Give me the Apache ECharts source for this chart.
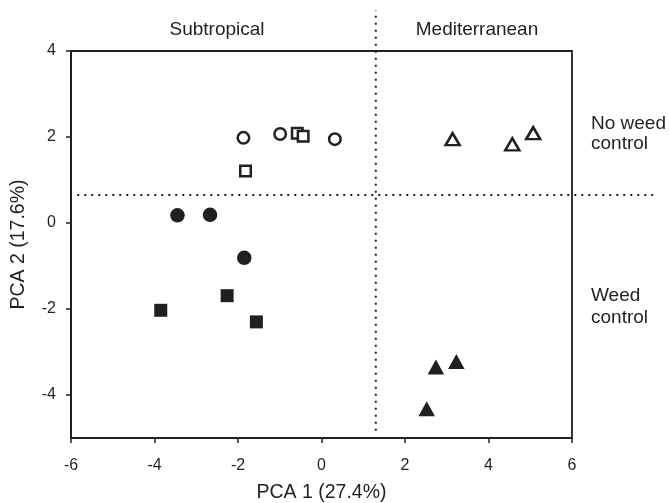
<!DOCTYPE html>
<html>
<head>
<meta charset="utf-8">
<script src="https://cdn.jsdelivr.net/npm/echarts@6/dist/echarts.min.js"></script>
<style>
html,body{margin:0;padding:0;background:#fff;}
#main{width:669px;height:503px;}
</style>
</head>
<body>
<div id="main"></div>
<script>
// PCA scores
var openCircles = [[-1.87, 1.98], [-0.99, 2.07], [0.32, 1.95]];
var openSquares = [[-0.58, 2.09], [-0.44, 2.02], [-1.82, 1.21]];
var filledCircles = [[-3.45, 0.18], [-2.67, 0.19], [-1.85, -0.81]];
var filledSquares = [[-3.85, -2.03], [-2.26, -1.69], [-1.56, -2.30]];
var openTriangles = [[3.14, 1.95], [4.57, 1.83], [5.07, 2.09]];
var filledTriangles = [[2.74, -3.35], [3.23, -3.22], [2.52, -4.32]];

// dotted separators (zone = 1.3 on PCA1, weed control = 0.65 on PCA2)
var zoneLine = [[1.3, -4.83], [1.3, 4.95]];
var weedLine = [[-5.85, 0.65], [8.0, 0.65]];

var xTicks = [-6, -4, -2, 0, 2, 4, 6];
var yTicks = [-4, -2, 0, 2, 4];

var ink = '#231f20';
var font = 'Liberation Sans';
var labelFont = '19px "Liberation Sans"';

var myChart = echarts.init(document.getElementById('main'));

function pts(data, symbol, size, filled) {
	return {
		type: 'scatter',
		data: data,
		symbol: symbol,
		symbolSize: size,
		itemStyle: filled ? { color: ink, opacity: 1 } : { color: '#fff', borderColor: ink, borderWidth: 2.5, opacity: 1 },
		z: 3
	};
}

option = {
	animation: false,
	backgroundColor: '#fff',
	textStyle: { fontFamily: font, color: ink },
	grid: {
		left: 71, right: 97, top: 51, bottom: 65,
		outerBoundsMode: 'none',
		show: true, borderColor: ink, borderWidth: 1.8, backgroundColor: 'transparent'
	},
	xAxis: {
		type: 'value', min: -6, max: 6, interval: 2,
		name: 'PCA 1 (27.4%)', nameLocation: 'middle', nameGap: 45,
		nameTextStyle: { fontSize: 19.5, color: ink, fontFamily: font },
		axisLine: { show: true, onZero: false, lineStyle: { color: ink, width: 1.8 } },
		axisTick: { show: true, length: 5, lineStyle: { color: ink, width: 1.5 }, customValues: xTicks },
		axisLabel: { fontSize: 16, color: ink, fontFamily: font, margin: 20, customValues: xTicks },
		splitLine: { show: false }
	},
	yAxis: {
		type: 'value', min: -5, max: 4,
		name: 'PCA 2 (17.6%)', nameLocation: 'middle', nameGap: 42, nameRotate: 90,
		nameTextStyle: { fontSize: 19.5, color: ink, fontFamily: font },
		axisLine: { show: true, onZero: false, lineStyle: { color: ink, width: 1.8 } },
		axisTick: { show: true, length: 5, lineStyle: { color: ink, width: 1.5 }, customValues: yTicks },
		axisLabel: { fontSize: 16, color: ink, fontFamily: font, margin: 15, customValues: yTicks },
		splitLine: { show: false }
	},
	graphic: [
		{ type: 'text', x: 217, y: 30, style: { text: 'Subtropical', fill: ink, font: labelFont, textAlign: 'center', textVerticalAlign: 'middle' } },
		{ type: 'text', x: 477, y: 30, style: { text: 'Mediterranean', fill: ink, font: labelFont, textAlign: 'center', textVerticalAlign: 'middle' } },
		{ type: 'text', x: 591, y: 134, style: { text: 'No weed\ncontrol', fill: ink, font: labelFont, lineHeight: 20, textAlign: 'left', textVerticalAlign: 'middle' } },
		{ type: 'text', x: 591, y: 307, style: { text: 'Weed\ncontrol', fill: ink, font: labelFont, lineHeight: 22, textAlign: 'left', textVerticalAlign: 'middle' } }
	],
	series: [
		pts(openCircles, 'circle', 11.5, false),
		pts(openSquares, 'rect', 10.5, false),
		pts(filledCircles, 'circle', 14.5, true),
		pts(filledSquares, 'rect', 13, true),
		pts(openTriangles, 'triangle', [14, 12], false),
		pts(filledTriangles, 'triangle', [16.5, 15], true)
	]
};
myChart.setOption(option);

// dotted separators run past the frame, so place them through the axes' scales
function dottedLine(id, pair) {
	var a = myChart.convertToPixel({ gridIndex: 0 }, pair[0]);
	var b = myChart.convertToPixel({ gridIndex: 0 }, pair[1]);
	return {
		id: id, type: 'line', silent: true, z: 2,
		shape: { x1: a[0], y1: a[1], x2: b[0], y2: b[1] },
		style: { stroke: ink, lineWidth: 2, lineDash: [2, 5] }
	};
}
myChart.setOption({
	graphic: option.graphic.concat([dottedLine('zone', zoneLine), dottedLine('weed', weedLine)])
});
</script>
</body>
</html>
